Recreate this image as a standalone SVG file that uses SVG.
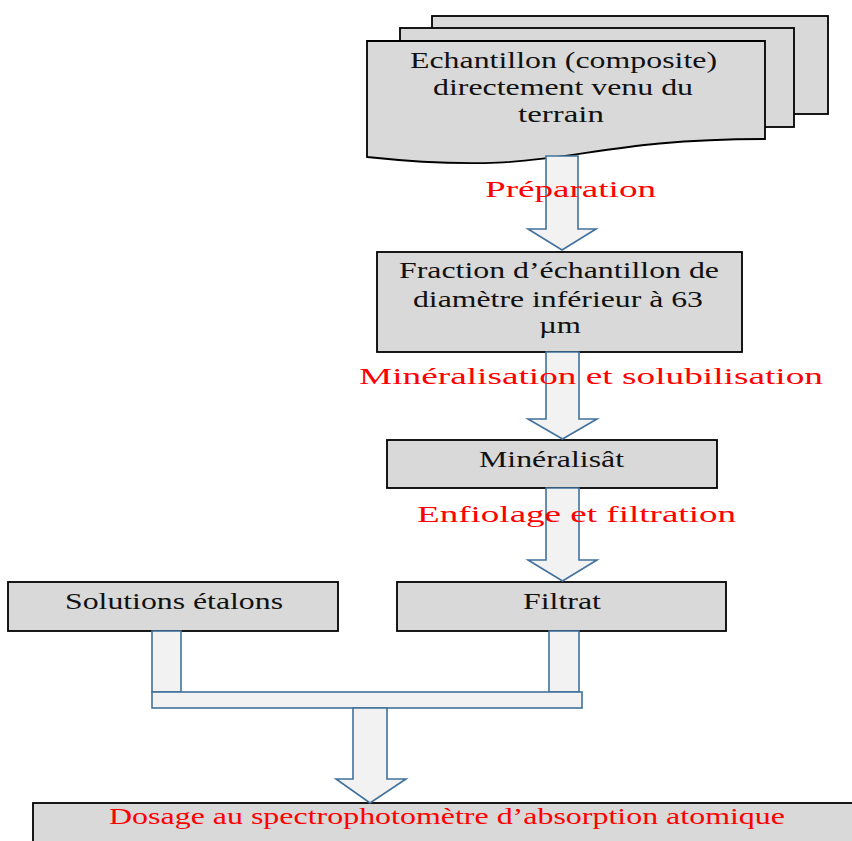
<svg xmlns="http://www.w3.org/2000/svg" width="852" height="841" viewBox="0 0 852 841">
<style>
.box{fill:#d9d9d9;stroke:#000;stroke-width:1.8}
.arr{fill:#f2f2f2;stroke:#41719c;stroke-width:1.6;stroke-linejoin:miter}
.t{font-family:"Liberation Serif","Times New Roman",serif;font-size:23px;fill:#111}
.r{font-family:"Liberation Serif","Times New Roman",serif;font-size:23px;fill:#ff0000}
</style>
<rect width="852" height="841" fill="#fff"/>
<g id="node-echantillon">
<rect class="box" x="432" y="16" width="396" height="98"/>
<rect class="box" x="400" y="28" width="394" height="99"/>
<path class="box" d="M367,41 H765 V139 C566,139 566,178 367,157 Z"/>
<text class="t" x="410" y="68" textLength="307" lengthAdjust="spacingAndGlyphs">Echantillon (composite)</text>
<text class="t" x="433" y="95" textLength="260" lengthAdjust="spacingAndGlyphs">directement venu du</text>
<text class="t" x="518" y="122" textLength="86" lengthAdjust="spacingAndGlyphs">terrain</text>
</g>
<g id="node-fraction">
<rect class="box" x="377" y="252" width="365" height="100"/>
<text class="t" x="399" y="278" textLength="320" lengthAdjust="spacingAndGlyphs">Fraction d’échantillon de</text>
<text class="t" x="413" y="307" textLength="290" lengthAdjust="spacingAndGlyphs">diamètre inférieur à 63</text>
<text class="t" x="539" y="333" textLength="42" lengthAdjust="spacingAndGlyphs">µm</text>
</g>
<g id="node-mineralisat">
<rect class="box" x="387" y="440" width="330" height="48"/>
<text class="t" x="479" y="467" textLength="145" lengthAdjust="spacingAndGlyphs">Minéralisât</text>
</g>
<g id="node-solutions">
<rect class="box" x="8" y="582" width="330" height="49"/>
<text class="t" x="65" y="609" textLength="218" lengthAdjust="spacingAndGlyphs">Solutions étalons</text>
</g>
<g id="node-filtrat">
<rect class="box" x="397" y="582" width="329" height="49"/>
<text class="t" x="523" y="609" textLength="78" lengthAdjust="spacingAndGlyphs">Filtrat</text>
</g>
<g id="node-dosage">
<rect class="box" x="33" y="803" width="830" height="50"/>
<text class="r" x="109" y="824" textLength="676" lengthAdjust="spacingAndGlyphs">Dosage au spectrophotomètre d’absorption atomique</text>
</g>
<g id="connectors">
<path class="arr" d="M546,156 H578 V229 H596 L562,250 L528,229 H546 Z"/>
<path class="arr" d="M546,352 H579 V419 H597 L562.5,439 L528,419 H546 Z"/>
<path class="arr" d="M546,488 H579 V560 H597 L562.5,581 L528,560 H546 Z"/>
<rect class="arr" x="152" y="631" width="29" height="61"/>
<rect class="arr" x="549" y="631" width="30" height="61"/>
<rect class="arr" x="152" y="692" width="430" height="16"/>
<path class="arr" d="M353,708 H387 V779 H406 L370,803 L336,779 H353 Z"/>
</g>
<g id="labels">
<text class="r" x="485" y="197" textLength="171" lengthAdjust="spacingAndGlyphs">Préparation</text>
<text class="r" x="359" y="384" textLength="464" lengthAdjust="spacingAndGlyphs">Minéralisation et solubilisation</text>
<text class="r" x="417" y="522" textLength="319" lengthAdjust="spacingAndGlyphs">Enfiolage et filtration</text>
</g>
</svg>
